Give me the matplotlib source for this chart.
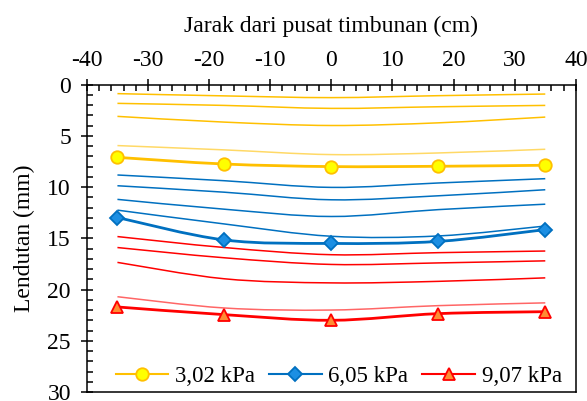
import numpy as np
import matplotlib.pyplot as plt
from matplotlib.path import Path
from matplotlib.patches import PathPatch
from matplotlib.ticker import MultipleLocator

plt.rcParams['font.family'] = ['Liberation Serif', 'DejaVu Serif']
plt.rcParams['axes.unicode_minus'] = False

# jarak dari pusat timbunan (cm)
jarak = [-35, -17.5, 0, 17.5, 35]

# garis tipis (tahap pembebanan) per beban
tipis_302 = [
    [0.88, 1.10, 1.27, 1.08, 0.92],
    [1.83, 2.03, 2.32, 2.16, 2.03],
    [3.10, 3.66, 3.99, 3.73, 3.17],
    [5.95, 6.37, 6.83, 6.67, 6.31],
]
tipis_605 = [
    [8.82, 9.38, 10.03, 9.60, 9.18],
    [9.87, 10.50, 11.24, 10.85, 10.26],
    [11.20, 12.16, 12.87, 12.20, 11.67],
    [12.25, 13.60, 14.80, 14.77, 13.80],
]
tipis_907 = [
    [14.83, 15.90, 16.60, 16.40, 16.24],
    [15.90, 16.90, 17.55, 17.40, 17.20],
    [17.35, 18.95, 19.35, 19.20, 18.86],
    [20.70, 21.80, 22.00, 21.57, 21.30],
]

# lendutan akhir (mm)
akhir_302 = [7.10, 7.75, 8.00, 7.97, 7.87]
akhir_605 = [12.97, 15.16, 15.50, 15.30, 14.15]
akhir_907 = [21.70, 22.45, 23.00, 22.35, 22.16]

labels = ['3,02 kPa', '6,05 kPa', '9,07 kPa']


def smooth_path(x, y):
    # kurva halus ala Excel (Bezier Catmull-Rom)
    p = np.column_stack([x, y]).astype(float)
    pp = np.vstack([p[0], p, p[-1]])
    verts = [p[0]]
    codes = [Path.MOVETO]
    for i in range(1, len(pp) - 2):
        c1 = pp[i] + (pp[i + 1] - pp[i - 1]) / 6
        c2 = pp[i + 1] - (pp[i + 2] - pp[i]) / 6
        verts += [c1, c2, pp[i + 1]]
        codes += [Path.CURVE4] * 3
    return Path(verts, codes)


fig = plt.figure(figsize=(5.87, 4.01), dpi=100)
ax = fig.add_axes([0.148, 0.0224, 0.833, 0.7666])

gaya = [
    ('#FFC000', '#FFFF00', '#FFC000', 'o', 9, tipis_302, akhir_302),
    ('#0070C0', '#1C8FE3', '#0070C0', 'D', 7, tipis_605, akhir_605),
    ('#FF0000', '#FF8C33', '#FF0000', '^', 9, tipis_907, akhir_907),
]

for (c, fc, ec, m, ms, tipis, akhir), lab in zip(gaya, labels):
    for k, yy in enumerate(tipis):
        alpha = 0.6 if k == 3 and c != '#0070C0' else 1.0
        ax.add_patch(PathPatch(smooth_path(jarak, yy), fill=False,
                               edgecolor=c, lw=1.1, alpha=alpha))
    ax.add_patch(PathPatch(smooth_path(jarak, akhir), fill=False,
                           edgecolor=c, lw=2))
    ax.plot(jarak, akhir, ls='none', marker=m, ms=ms, mfc=fc, mec=ec,
            mew=1.3, zorder=3)
    ax.plot([], [], color=c, lw=1.5, marker=m, ms=ms, mfc=fc, mec=ec,
            mew=1.3, label=lab)

ax.set_xlim(-40, 40)
ax.set_ylim(30, 0)
ax.xaxis.tick_top()
ax.xaxis.set_label_position('top')
ax.xaxis.set_major_locator(MultipleLocator(10))
ax.xaxis.set_minor_locator(MultipleLocator(2))
ax.yaxis.set_major_locator(MultipleLocator(5))
ax.yaxis.set_minor_locator(MultipleLocator(1))
ax.tick_params(which='major', direction='inout', length=9, width=1.1,
               labelsize=17, pad=5)
ax.tick_params(which='minor', direction='in', length=4, width=1.1)
ax.tick_params(axis='y', which='major', pad=7)
for s in ax.spines.values():
    s.set_linewidth(1.1)

ax.set_xlabel('Jarak dari pusat timbunan (cm)', fontsize=17, labelpad=13)
ax.set_ylabel('Lendutan (mm)', fontsize=17, labelpad=9)

ax.legend(loc='lower center', ncol=3, frameon=False, fontsize=16.5,
          handlelength=2.3, handletextpad=0.3, columnspacing=0.6,
          bbox_to_anchor=(0.515, -0.052))

fig.savefig('out.png', dpi=100)
